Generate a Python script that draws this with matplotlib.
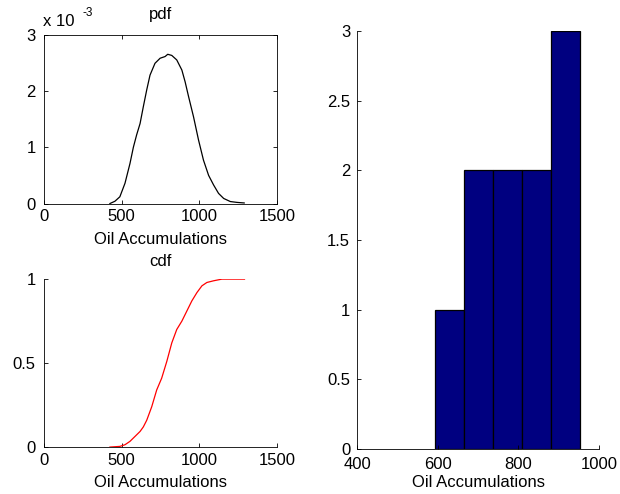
import numpy as np
import matplotlib
matplotlib.use("Agg")
import matplotlib.pyplot as plt
from matplotlib.ticker import FuncFormatter

# pdf curve (Oil Accumulations vs density)
pdf_x = [424, 456, 488, 521, 553, 575, 596, 618, 639, 661, 682, 714, 747, 779, 796,
         822, 854, 887, 908, 930, 962, 994, 1026, 1059, 1091, 1123, 1156, 1199, 1242, 1288]
pdf_y = [0.0, 0.04e-3, 0.12e-3, 0.36e-3, 0.71e-3, 1.0e-3, 1.22e-3, 1.42e-3, 1.72e-3,
         2.02e-3, 2.28e-3, 2.49e-3, 2.58e-3, 2.61e-3, 2.65e-3, 2.63e-3, 2.55e-3, 2.37e-3,
         2.16e-3, 1.90e-3, 1.54e-3, 1.13e-3, 0.77e-3, 0.50e-3, 0.33e-3, 0.18e-3, 0.09e-3,
         0.035e-3, 0.02e-3, 0.01e-3]

# cdf curve
cdf_x = [424, 488, 521, 553, 585, 618, 639, 661, 693, 725, 757, 790, 822, 854, 887,
         919, 951, 984, 1016, 1048, 1091, 1145, 1290]
cdf_y = [0.0, 0.004, 0.014, 0.034, 0.063, 0.093, 0.12, 0.16, 0.24, 0.34, 0.41, 0.51,
         0.62, 0.70, 0.75, 0.81, 0.87, 0.92, 0.96, 0.98, 0.99, 1.0, 1.0]

# histogram of samples
bin_edges = [593, 665, 737, 809, 881, 953]
counts = [1, 2, 2, 2, 3]

FS = 12
plt.rcParams["font.family"] = ["Liberation Sans", "DejaVu Sans"]
plt.rcParams["font.size"] = FS
plt.rcParams["axes.linewidth"] = 0.6
plt.rcParams["xtick.direction"] = "in"
plt.rcParams["ytick.direction"] = "in"
plt.rcParams["xtick.major.size"] = 3
plt.rcParams["ytick.major.size"] = 3
plt.rcParams["xtick.major.width"] = 0.6
plt.rcParams["ytick.major.width"] = 0.6

fig = plt.figure(figsize=(6.2, 4.94), dpi=100)

# pdf panel
ax1 = fig.add_axes([0.071, 0.588, 0.376, 0.342])
ax1.plot(pdf_x, pdf_y, color="black", lw=0.9)
ax1.set_xlim(0, 1500)
ax1.set_ylim(0, 3e-3)
ax1.set_xticks([0, 500, 1000, 1500])
ax1.set_yticks([0, 1e-3, 2e-3, 3e-3])
ax1.yaxis.set_major_formatter(FuncFormatter(lambda v, p: f"{v * 1e3:g}"))
ax1.tick_params(top=True, right=True)
ax1.tick_params(axis="x", pad=4)
ax1.tick_params(axis="y", pad=6)
ax1.set_xlabel("Oil Accumulations", labelpad=6)
fig.text(0.259, 1 - 15 / 494, "pdf", fontsize=FS, ha="center", va="center")
fig.text(0.069, 1 - 21 / 494, "x 10", fontsize=FS, ha="left", va="center")
fig.text(0.133, 1 - 13 / 494, "-3", fontsize=8.5, ha="left", va="center")

# cdf panel
ax2 = fig.add_axes([0.071, 0.095, 0.376, 0.340])
ax2.plot(cdf_x, cdf_y, color="red", lw=0.9)
ax2.set_xlim(0, 1500)
ax2.set_ylim(0, 1)
ax2.set_xticks([0, 500, 1000, 1500])
ax2.set_yticks([0, 0.5, 1])
ax2.yaxis.set_major_formatter(FuncFormatter(lambda v, p: f"{v:g}"))
ax2.spines["top"].set_visible(False)
ax2.spines["right"].set_visible(False)
ax2.tick_params(axis="x", pad=4)
ax2.tick_params(axis="y", pad=6)
ax2.set_xlabel("Oil Accumulations", labelpad=5)
fig.text(0.259, 1 - 261 / 494, "cdf", fontsize=FS, ha="center", va="center")

# histogram panel
ax3 = fig.add_axes([0.576, 0.091, 0.390, 0.846])
edges = np.array(bin_edges, dtype=float)
ax3.bar(edges[:-1], counts, width=np.diff(edges), align="edge",
        color="#000080", edgecolor="black", linewidth=0.9)
ax3.set_xlim(400, 1000)
ax3.set_ylim(0, 3)
ax3.set_xticks([400, 600, 800, 1000])
ax3.set_yticks([0, 0.5, 1, 1.5, 2, 2.5, 3])
ax3.yaxis.set_major_formatter(FuncFormatter(lambda v, p: f"{v:g}"))
ax3.spines["top"].set_visible(False)
ax3.spines["right"].set_visible(False)
ax3.tick_params(axis="x", pad=6)
ax3.tick_params(axis="y", pad=5)
ax3.set_xlabel("Oil Accumulations", labelpad=2)

fig.savefig("out.png", dpi=100)
